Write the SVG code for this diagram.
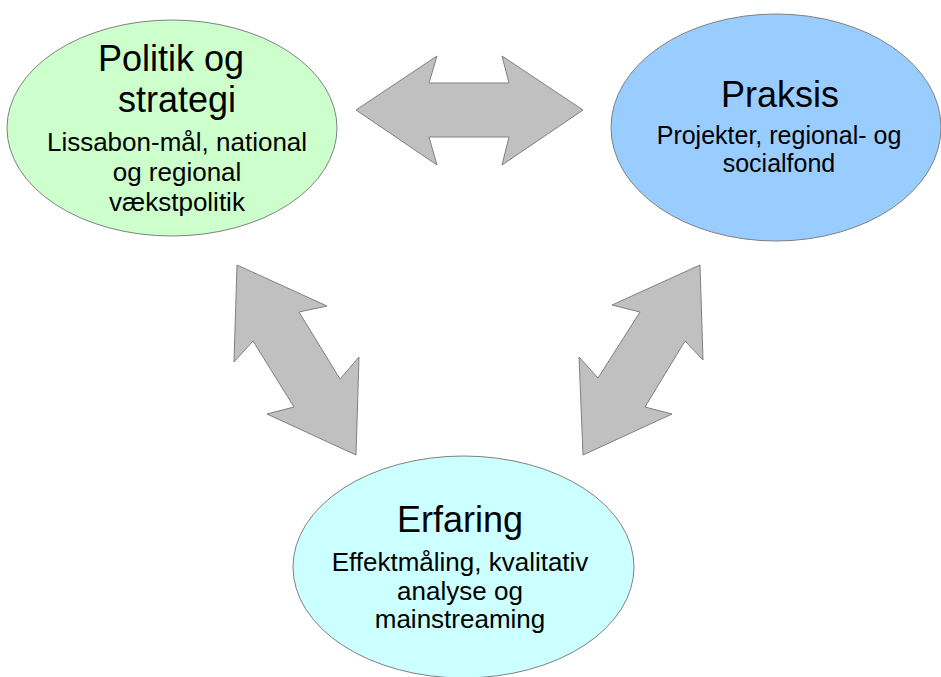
<svg xmlns="http://www.w3.org/2000/svg" width="941" height="677" viewBox="0 0 941 677">
<style>
.bg{fill:#ffffff}
.node{stroke:#808080;stroke-width:1}
.arrow{fill:#c0c0c0;stroke:#808080;stroke-width:1;stroke-linejoin:miter}
text{font-family:"Liberation Sans",Arial,sans-serif;fill:#000000;text-anchor:middle}
.t{font-size:36px}
.s{font-size:26px}
.s2{font-size:25px}
</style>
<rect class="bg" x="0" y="0" width="941" height="677"/>
<g id="connectors">
<polygon class="arrow" points="356,110 437,56 429,83 509,83 502,56 583,110 502,165 509,137 429,137 437,165"/>
<polygon class="arrow" points="237,265 327,306 299,312 340,379 359,357 356,455 267,414 294,407 253,341 234,362"/>
<polygon class="arrow" points="700,265 612,305 640,312 598,378 579,357 583,455 672,414 645,407 685,341 703,360"/>
</g>
<g id="politik">
<ellipse class="node" cx="172" cy="128" rx="165" ry="108" fill="#ccffcc"/>
<text class="t" x="171" y="71">Politik og</text>
<text class="t" x="177" y="112">strategi</text>
<text class="s" x="177" y="151">Lissabon-mål, national</text>
<text class="s" x="177" y="181">og regional</text>
<text class="s" x="177" y="211">vækstpolitik</text>
</g>
<g id="praksis">
<ellipse class="node" cx="776" cy="127.5" rx="165" ry="113.5" fill="#99ccff"/>
<text class="t" x="780" y="107">Praksis</text>
<text class="s2" x="779" y="144">Projekter, regional- og</text>
<text class="s2" x="779" y="172">socialfond</text>
</g>
<g id="erfaring">
<ellipse class="node" cx="463.5" cy="567" rx="170.5" ry="111" fill="#ccffff"/>
<text class="t" x="460" y="532">Erfaring</text>
<text class="s" x="460" y="571">Effektmåling, kvalitativ</text>
<text class="s" x="460" y="600">analyse og</text>
<text class="s" x="460" y="628">mainstreaming</text>
</g>
</svg>
